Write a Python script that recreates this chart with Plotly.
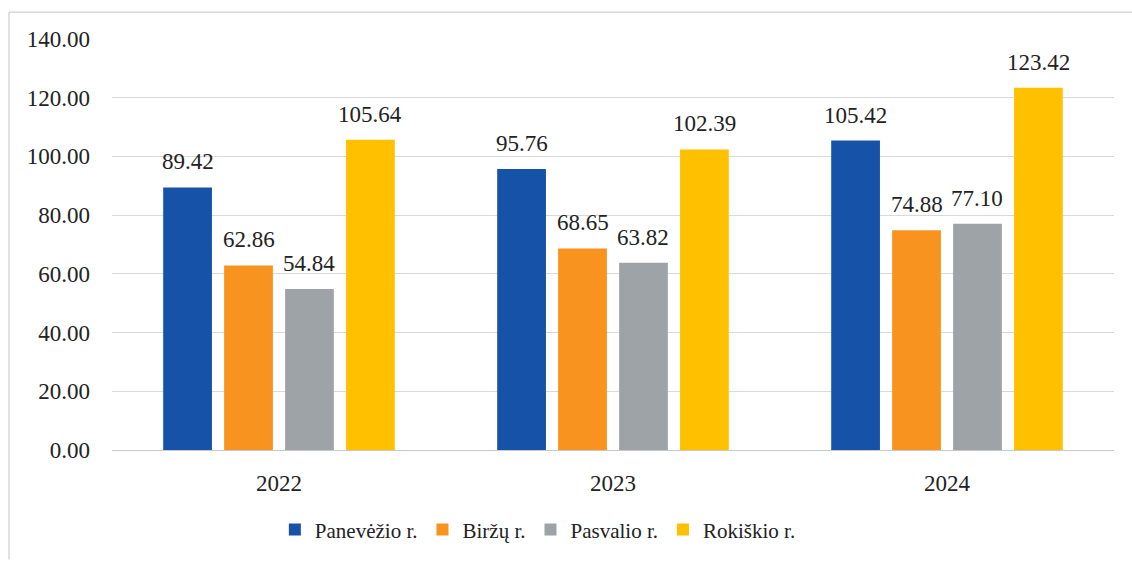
import plotly.graph_objects as go

years = ["2022", "2023", "2024"]
regions = ["Panevėžio r.", "Biržų r.", "Pasvalio r.", "Rokiškio r."]
panevezio = [89.42, 95.76, 105.42]
birzu = [62.86, 68.65, 74.88]
pasvalio = [54.84, 63.82, 77.10]
rokiskio = [105.64, 102.39, 123.42]
colors = ["#1552A8", "#F7931E", "#9EA3A7", "#FFC000"]
y_ticks = [0, 20, 40, 60, 80, 100, 120, 140]

series = [panevezio, birzu, pasvalio, rokiskio]

W, H = 1132, 562
M_L, M_R, M_T, M_B = 112, 18, 39, 110
BARGAP, BARGROUPGAP = 0.27, 0.2
SERIF = "Liberation Serif"

fig = go.Figure()
for name, vals, col in zip(regions, series, colors):
    fig.add_trace(go.Bar(x=years, y=vals, name=name, marker_color=col,
                         marker_line_width=0))

# value labels above each bar; x given as category index, shifted to the bar's slot
plot_w = W - M_L - M_R
slot = plot_w / len(years) * (1 - BARGAP) / len(series)
for i, vals in enumerate(series):
    dx = (i - (len(series) - 1) / 2) * slot
    for j, v in enumerate(vals):
        fig.add_annotation(x=j, y=v, xref="x", yref="y", text=f"{v:.2f}",
                           showarrow=False, xshift=dx, yshift=11, yanchor="bottom",
                           font=dict(family=SERIF, size=23, color="#222222"))

# outer frame (left and top edges)
plot_h = H - M_T - M_B
fig.add_shape(type="line", xref="paper", yref="paper",
              x0=(9 - M_L) / plot_w, x1=(W - M_L) / plot_w,
              y0=(H - M_B - 12) / plot_h, y1=(H - M_B - 12) / plot_h,
              line=dict(color="#cfcfcf", width=1.2))
fig.add_shape(type="line", xref="paper", yref="paper",
              x0=(9 - M_L) / plot_w, x1=(9 - M_L) / plot_w,
              y0=(H - M_B - 12) / plot_h, y1=(-M_B) / plot_h,
              line=dict(color="#cfcfcf", width=1.2))

fig.update_layout(
    width=W, height=H,
    margin=dict(l=M_L, r=M_R, t=M_T, b=M_B),
    paper_bgcolor="white", plot_bgcolor="white",
    barmode="group", bargap=BARGAP, bargroupgap=BARGROUPGAP,
    font=dict(family=SERIF, size=23, color="#222222"),
    showlegend=True,
    legend=dict(orientation="h", x=0.425, xanchor="center", y=-0.194, yanchor="middle",
                font=dict(family=SERIF, size=21, color="#222222"),
                itemwidth=30, traceorder="normal"),
    xaxis=dict(type="category", range=[-0.5, 2.5], showgrid=False, showline=False,
               ticks="", ticklabelstandoff=17, tickfont=dict(family=SERIF, size=23)),
    yaxis=dict(range=[0, 140], tickvals=y_ticks, tickformat=".2f",
               showgrid=True, gridcolor="#d9d9d9", gridwidth=1,
               zeroline=True, zerolinecolor="#c8c8c8", zerolinewidth=1.2,
               showline=False, ticks="", ticklabelstandoff=21,
               tickfont=dict(family=SERIF, size=23)),
)

fig.write_html("out.html")
